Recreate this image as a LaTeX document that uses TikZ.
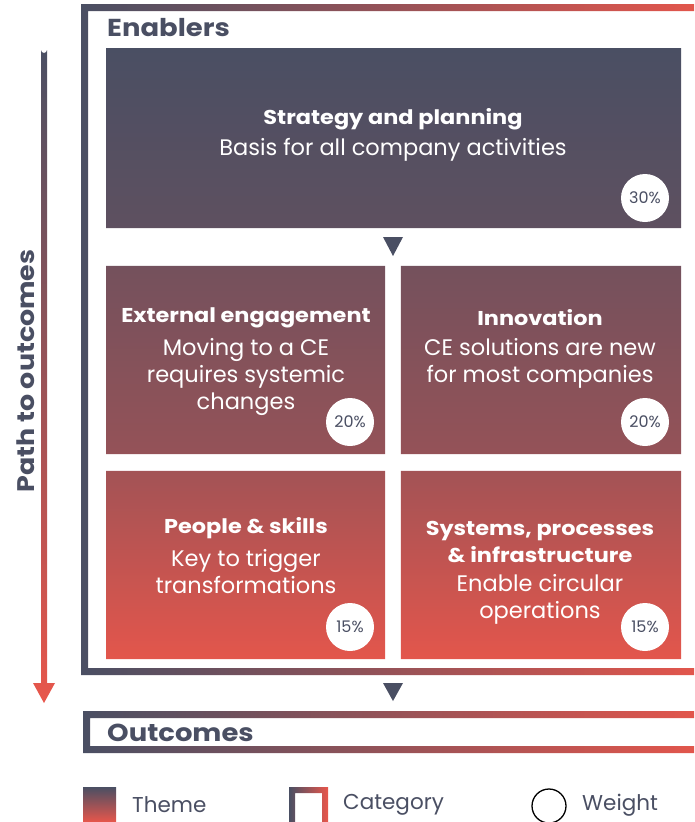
\documentclass[tikz,border=0pt]{standalone}
\usepackage{fontspec}
\setmainfont{Poppins}
\newfontfamily\bfam{Poppins}[FakeStretch=1.12]
\definecolor{dk}{HTML}{4A4F63}
\definecolor{rd}{HTML}{E8564B}
\pgfdeclareverticalshading{boxgrad}{100bp}{color(0bp)=(rd!97!dk); color(25bp)=(rd!97!dk); color(40.5bp)=(rd!56!dk); color(42bp)=(rd!47!dk); color(57bp)=(rd!27!dk); color(60bp)=(rd!13!dk); color(75bp)=(dk); color(100bp)=(dk)}
\begin{document}
\begin{tikzpicture}[x=1pt,y=-1pt,
  box/.style={minimum width=#1,minimum height=188pt,inner sep=0pt,draw=none},
  ttl/.style={text=white,font=\fontsize{20}{27}\bfam\bfseries,align=center,inner sep=0pt},
  bdy/.style={text=white,font=\fontsize{22.5}{27}\selectfont,align=center,inner sep=0pt},
  wt/.style={circle,fill=white,minimum size=48pt,inner sep=0pt,text=dk,font=\fontsize{16}{16}\selectfont},
  hdr/.style={text=dk,font=\fontsize{24.5}{24.5}\bfam\bfseries,anchor=west,inner sep=0pt},
  leg/.style={text=dk,font=\fontsize{21.5}{21.5}\selectfont,anchor=west,inner sep=0pt},
  tri/.style={fill=dk}]
\useasboundingbox (0,0) rectangle (694,822);
\clip (0,0) rectangle (694,822);
% Enablers frame
\shade[left color=dk,right color=rd,even odd rule] (81,4) rectangle (720,675) (88,11) rectangle (713,668);
\node[hdr] (en) at (107,27.5) {Enablers};
% boxes
\node[minimum width=575pt,minimum height=180pt,inner sep=0pt] (strat) at (393.5,138) {};
\node[box=279pt] (ext) at (245.5,360) {};
\node[box=280pt] (inn) at (541,360) {};
\node[box=279pt] (ppl) at (245.5,565) {};
\node[box=280pt] (sys) at (541,565) {};
\begin{scope}
\clip (strat.north west) rectangle (strat.south east)
      (ext.north west) rectangle (ext.south east)
      (inn.north west) rectangle (inn.south east)
      (ppl.north west) rectangle (ppl.south east)
      (sys.north west) rectangle (sys.south east);
\shade[shading=boxgrad] (106,48) rectangle (681,660);
\end{scope}
% texts
\node[ttl] (t1) at (393,119) {Strategy and planning};
\node[bdy] (b1) at (393,150) {Basis for all company activities};
\node[ttl] (t2) at (246,318) {External engagement};
\node[bdy] (b2) at (246,377) {Moving to a CE\\requires systemic\\changes};
\node[ttl] (t3) at (540,318) {Innovation};
\node[bdy] (b3) at (540,363.5) {CE solutions are new\\for most companies};
\node[ttl] (t4) at (246,528) {People \& skills};
\node[bdy] (b4) at (246,572) {Key to trigger\\transformations};
\node[ttl] (t5) at (540,541.5) {Systems, processes\\\& infrastructure};
\node[bdy] (b5) at (540,599.5) {Enable circular\\operations};
% weights
\node[wt] (w1) at (645,198) {30\%};
\node[wt] (w2) at (350,422) {20\%};
\node[wt] (w3) at (645,422) {20\%};
\node[wt] (w4) at (350,627) {15\%};
\node[wt] (w5) at (645,627) {15\%};
% triangles
\fill[tri] (383,237) -- (403,237) -- (393,256) -- cycle;
\fill[tri] (383,683) -- (403,683) -- (393,701) -- cycle;
% Outcomes frame
\shade[left color=dk,right color=rd,even odd rule] (83,711) rectangle (720,753) (90,718) rectangle (713,746);
\node[hdr] (out) at (107,732.5) {Outcomes};
% path arrow
\shade[top color=dk,bottom color=rd] (41,50) arc (180:0:3) -- (47,683) -- (55,683) -- (44,703) -- (33,683) -- (41,683) -- cycle;
\node[text=dk,font=\fontsize{24}{24}\bfam\bfseries,rotate=90,inner sep=0pt] (pth) at (26,371) {Path to outcomes};
% legend
\shade[top color=dk,bottom color=rd] (83,787) rectangle (116,822);
\node[leg] (lt) at (132,805) {Theme};
\shade[left color=dk,right color=rd,even odd rule] (289,787) rectangle (328,825) (295,793) rectangle (322,825);
\node[leg] (lc) at (343,805) {Category};
\node[circle,draw=black,line width=1.3pt,minimum width=32pt,minimum height=34pt,inner sep=0pt] (lw) at (549,806) {};
\node[leg] (lwt) at (582,805) {Weight};
\end{tikzpicture}
\end{document}
